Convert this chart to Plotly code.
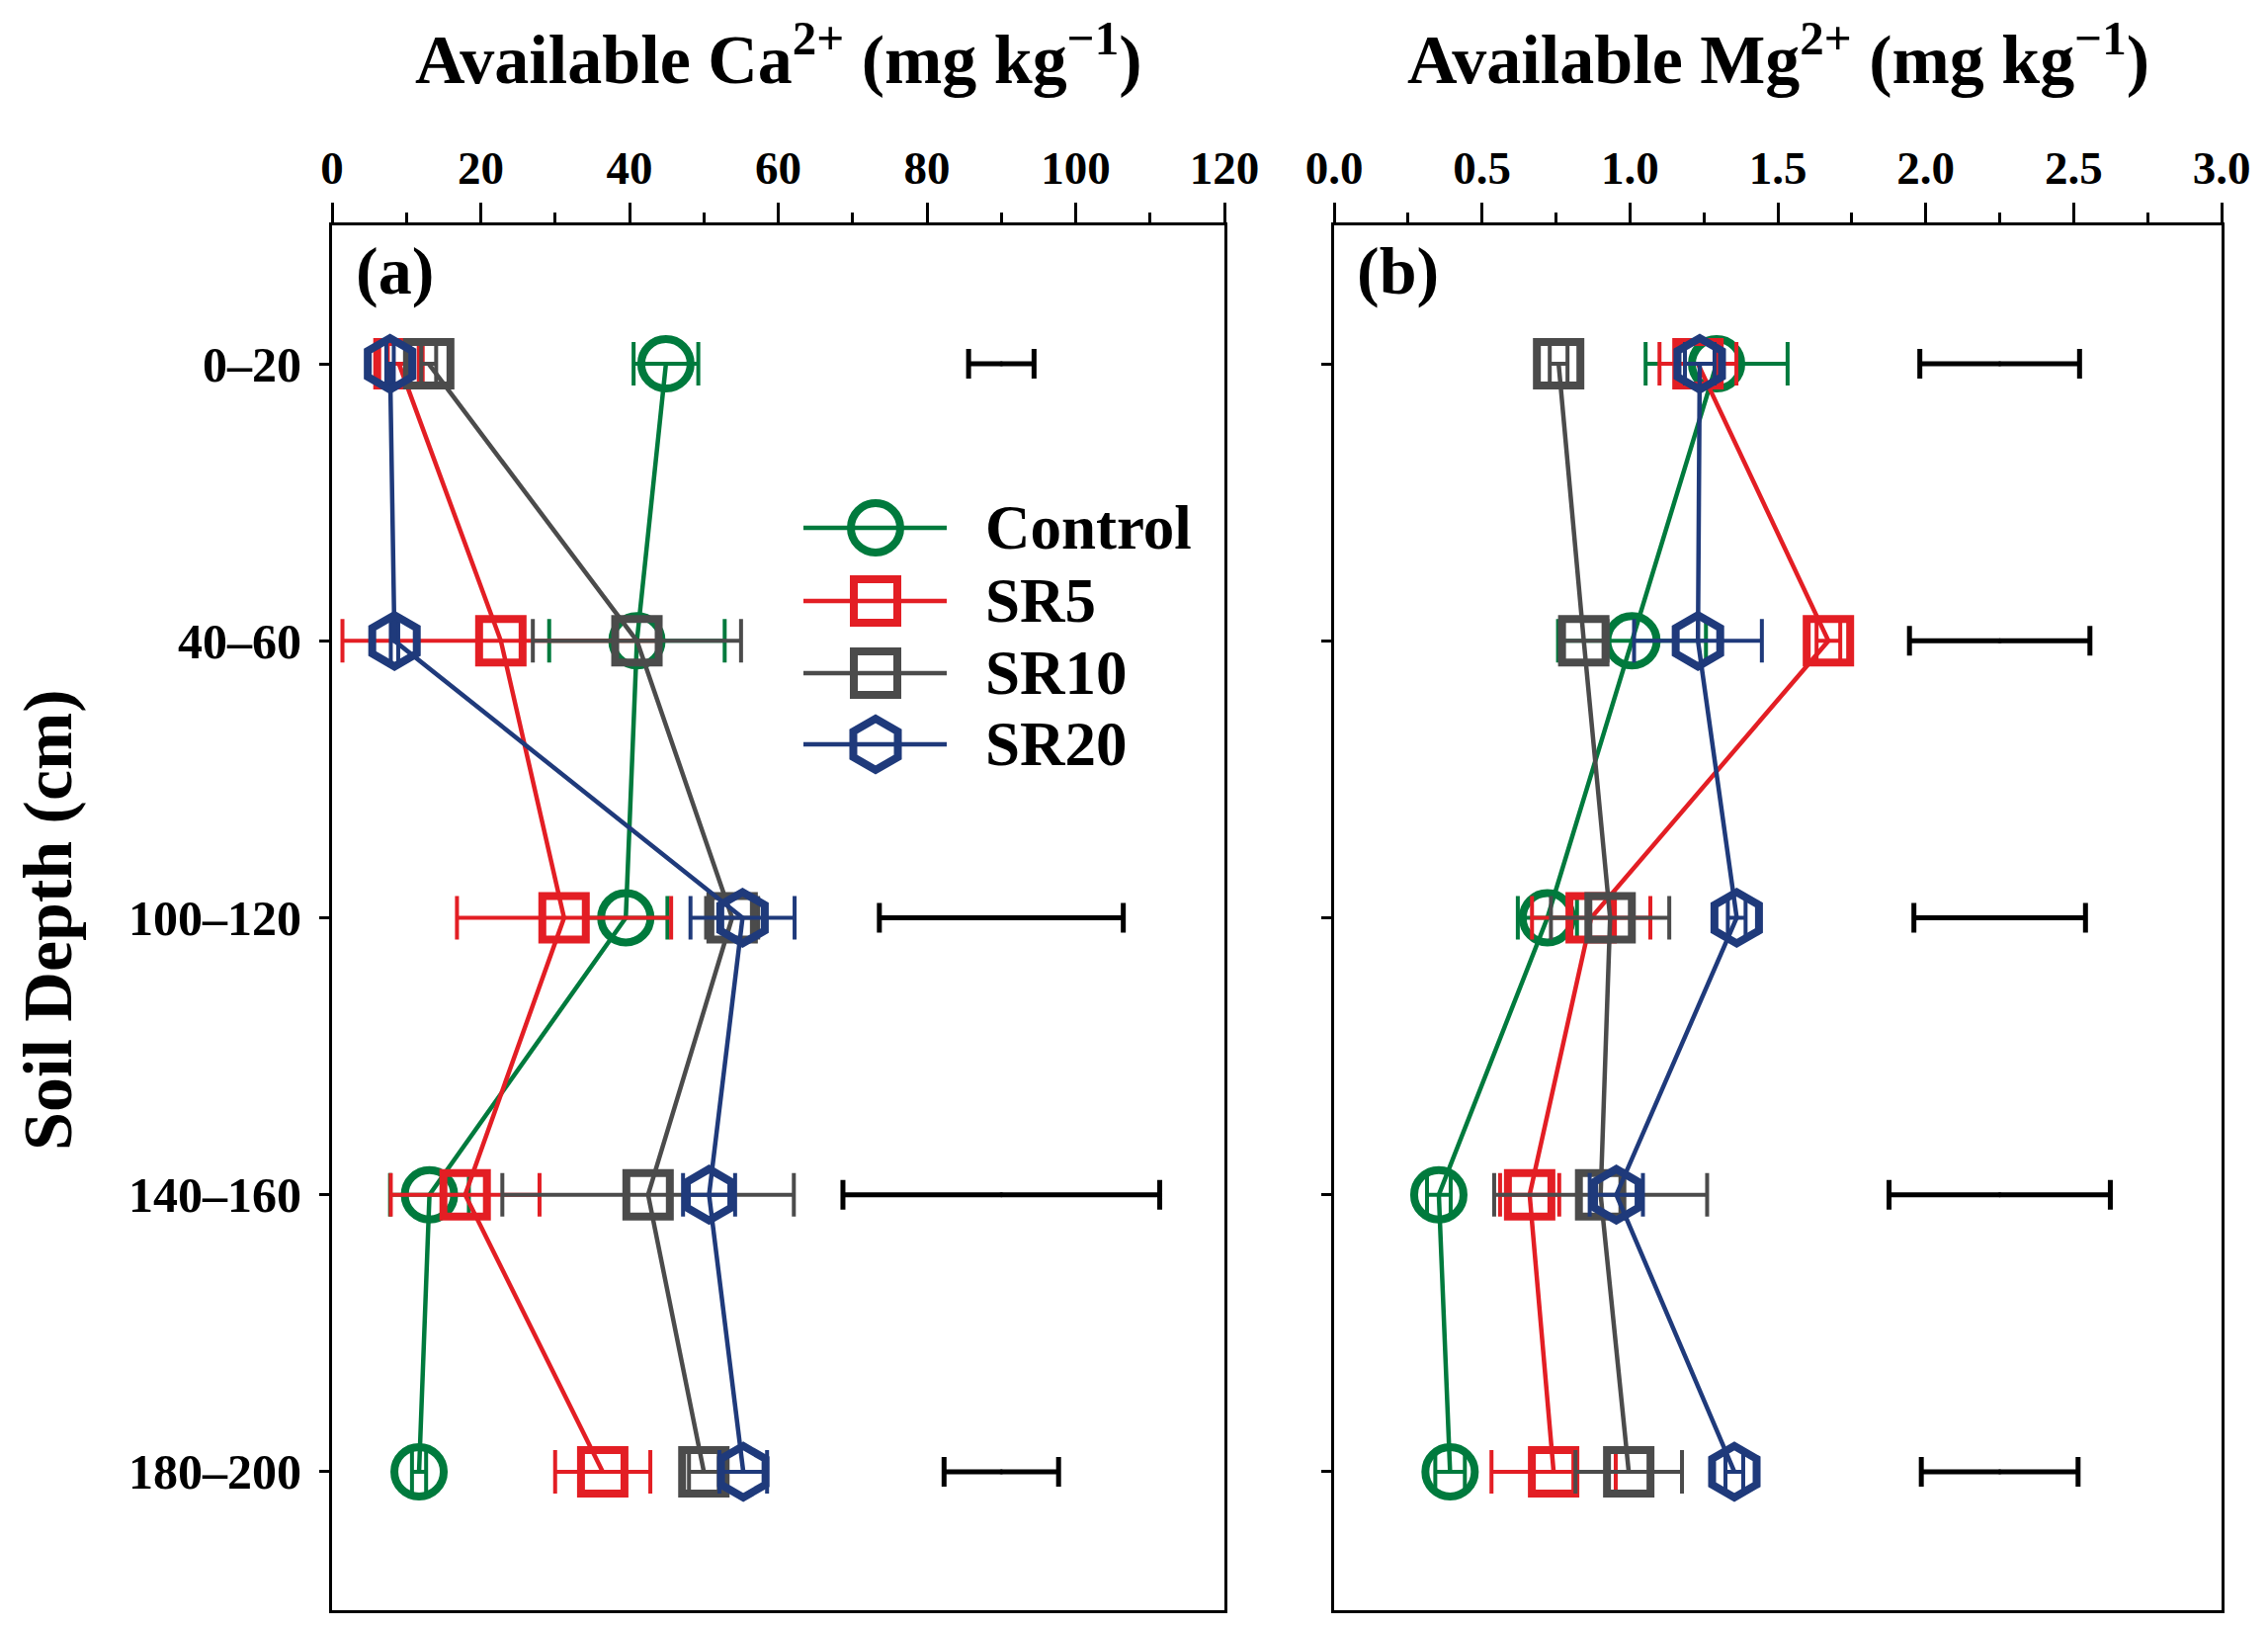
import plotly.graph_objects as go

W, H = 2295, 1647
OFF = 8  # page body margin offset compensation (px)

depths = ["0–20", "40–60", "100–120", "140–160", "180–200"]
series = ["Control", "SR5", "SR10", "SR20"]
colors = ["#007a3d", "#e31e24", "#4b4b4b", "#1f3a7b"]
symbols = ["circle-open", "square-open", "square-open", "hexagon-open"]
msizes = [50, 44, 44, 52]

# Available Ca2+ (mg kg-1)
ca_control = [44.9, 41.0, 39.5, 13.1, 11.7]
ca_control_se = [4.35, 11.8, 5.6, 5.3, 0.95]
ca_sr5 = [9.0, 22.7, 31.2, 17.9, 36.4]
ca_sr5_se = [1.5, 21.3, 14.4, 10.0, 6.4]
ca_sr10 = [13.0, 41.0, 53.8, 42.5, 50.0]
ca_sr10_se = [1.0, 14.0, 3.5, 19.6, 2.0]
ca_sr20 = [7.8, 8.4, 55.2, 50.7, 55.3]
ca_sr20_se = [0.5, 0.5, 7.0, 3.5, 3.2]
ca_lsd_center = 90
ca_lsd_half = [4.4, None, 16.4, 21.3, 7.7]

# Available Mg2+ (mg kg-1)
mg_control = [1.293, 1.007, 0.721, 0.354, 0.392]
mg_control_se = [0.24, 0.25, 0.10, 0.04, 0.05]
mg_sr5 = [1.23, 1.671, 0.869, 0.661, 0.742]
mg_sr5_se = [0.13, 0.04, 0.20, 0.10, 0.21]
mg_sr10 = [0.759, 0.844, 0.933, 0.901, 0.996]
mg_sr10_se = [0.03, 0.08, 0.20, 0.36, 0.18]
mg_sr20 = [1.236, 1.23, 1.361, 0.954, 1.353]
mg_sr20_se = [0.05, 0.216, 0.03, 0.09, 0.03]
mg_lsd_center = 2.25
mg_lsd_half = [0.27, 0.305, 0.29, 0.374, 0.265]

ca_vals = [ca_control, ca_sr5, ca_sr10, ca_sr20]
ca_errs = [ca_control_se, ca_sr5_se, ca_sr10_se, ca_sr20_se]
mg_vals = [mg_control, mg_sr5, mg_sr10, mg_sr20]
mg_errs = [mg_control_se, mg_sr5_se, mg_sr10_se, mg_sr20_se]


def xp(px):
    return (px - OFF) / W


def yp(py):
    return 1 - (py - OFF) / H


FONT = "Liberation Serif"
MLW = 8
fig = go.Figure()

for (vals, errs, xa, ya) in [(ca_vals, ca_errs, "x", "y"), (mg_vals, mg_errs, "x2", "y2")]:
    for i, name in enumerate(series):
        fig.add_trace(go.Scatter(
            x=vals[i], y=depths, xaxis=xa, yaxis=ya, name=name, showlegend=False,
            mode="lines+markers",
            line=dict(color=colors[i], width=4.5),
            marker=dict(symbol=symbols[i], size=msizes[i], color=colors[i],
                        line=dict(color=colors[i], width=MLW)),
            error_x=dict(type="data", array=errs[i], visible=True,
                         color=colors[i], thickness=4, width=22),
        ))

# LSD bars
for (center, halves, xa, ya) in [(ca_lsd_center, ca_lsd_half, "x", "y"),
                                 (mg_lsd_center, mg_lsd_half, "x2", "y2")]:
    yy = [d for d, h in zip(depths, halves) if h is not None]
    hh = [h for h in halves if h is not None]
    fig.add_trace(go.Scatter(
        x=[center] * len(yy), y=yy, xaxis=xa, yaxis=ya, showlegend=False,
        mode="markers", marker=dict(color="black", size=5, symbol="circle"),
        error_x=dict(type="data", array=hh, visible=True, color="black",
                     thickness=5, width=15),
    ))

# custom legend (pixel overlay axis)
leg_x0, leg_xm, leg_x1, leg_tx = 813, 886, 958, 995
leg_rows = [534, 608, 681, 753]
for i, name in enumerate(series):
    fig.add_trace(go.Scatter(
        x=[leg_x0, leg_x1], y=[leg_rows[i]] * 2, xaxis="x3", yaxis="y3",
        mode="lines", line=dict(color=colors[i], width=4.5), showlegend=False,
        hoverinfo="skip"))
    fig.add_trace(go.Scatter(
        x=[leg_xm], y=[leg_rows[i]], xaxis="x3", yaxis="y3", mode="markers",
        marker=dict(symbol=symbols[i], size=msizes[i], color=colors[i],
                    line=dict(color=colors[i], width=MLW)),
        showlegend=False, hoverinfo="skip"))
    fig.add_annotation(x=leg_tx, y=leg_rows[i], xref="x3", yref="y3",
                       text=name, showarrow=False, xanchor="left", yanchor="middle",
                       font=dict(family=FONT, size=63, color="black", weight="bold"))

top_px, bot_px = 228, 1629
ydom = [yp(bot_px), yp(top_px)]
lx = [xp(336), xp(1239)]
rx = [xp(1350), xp(2248)]

xtickfont = dict(family=FONT, size=47, color="black", weight="bold")
ytickfont = dict(family=FONT, size=50, color="black", weight="bold")
common_x = dict(side="top", showline=True, linewidth=3, linecolor="black", mirror=True,
                ticks="outside", ticklen=20, tickwidth=3, tickcolor="black",
                showgrid=False, zeroline=False, tickfont=xtickfont, automargin=False)
minor_x = dict(ticks="outside", ticklen=10, tickwidth=3, tickcolor="black", showgrid=False)
common_y = dict(type="category", categoryorder="array", categoryarray=depths,
                range=[4.5, -0.5], domain=ydom, showline=True, linewidth=3,
                linecolor="black", mirror=True, ticks="outside", ticklen=10,
                tickwidth=3, tickcolor="black", showgrid=False, zeroline=False,
                tickfont=ytickfont, automargin=False, ticklabelstandoff=8)

fig.update_layout(
    width=W, height=H, autosize=False,
    margin=dict(l=0, r=0, t=0, b=0, pad=0, autoexpand=False),
    paper_bgcolor="white", plot_bgcolor="rgba(0,0,0,0)",
    xaxis=dict(domain=lx, range=[0, 120], dtick=20, anchor="y",
               minor=dict(dtick=10, **minor_x), **common_x),
    yaxis=dict(anchor="x", **common_y),
    xaxis2=dict(domain=rx, range=[0, 3], dtick=0.5, tickformat=".1f", anchor="y2",
                minor=dict(dtick=0.25, **minor_x), **common_x),
    yaxis2=dict(anchor="x2", showticklabels=False, **common_y),
    xaxis3=dict(domain=[0, 1], range=[OFF, W + OFF], visible=False, anchor="y3",
                fixedrange=True, automargin=False),
    yaxis3=dict(domain=[0, 1], range=[H + OFF, OFF], visible=False, anchor="x3",
                fixedrange=True, automargin=False),
    showlegend=False,
)

title_font = dict(family=FONT, size=70, color="black", weight="bold")
fig.add_annotation(x=(lx[0] + lx[1]) / 2, y=yp(55), xref="paper", yref="paper",
                   text="Available Ca<sup>2+</sup> (mg kg<sup>−1</sup>)", showarrow=False,
                   font=title_font, xanchor="center", yanchor="middle")
fig.add_annotation(x=(rx[0] + rx[1]) / 2, y=yp(55), xref="paper", yref="paper",
                   text="Available Mg<sup>2+</sup> (mg kg<sup>−1</sup>)", showarrow=False,
                   font=title_font, xanchor="center", yanchor="middle")
fig.add_annotation(x=xp(48), y=yp(931), xref="paper", yref="paper",
                   text="Soil Depth (cm)", textangle=-90, showarrow=False,
                   font=title_font, xanchor="center", yanchor="middle")
panel_font = dict(family=FONT, size=68, color="black", weight="bold")
fig.add_annotation(x=xp(358), y=yp(274), xref="paper", yref="paper", text="(a)",
                   showarrow=False, font=panel_font, xanchor="left", yanchor="middle")
fig.add_annotation(x=xp(1371), y=yp(274), xref="paper", yref="paper", text="(b)",
                   showarrow=False, font=panel_font, xanchor="left", yanchor="middle")

fig.write_html("out.html")
